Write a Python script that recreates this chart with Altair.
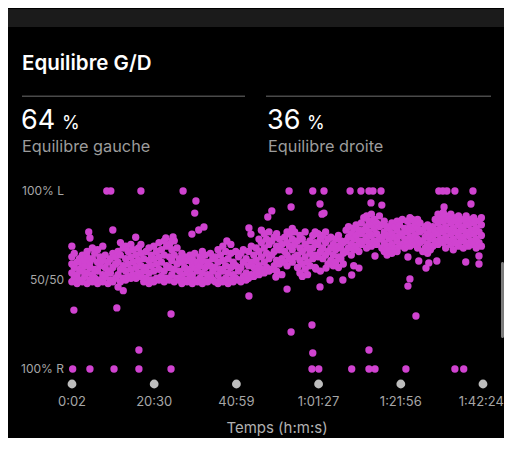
import altair as alt
import pandas as pd

# ---------------- data ----------------
title_text = "Equilibre G/D"
left_pct = 64
right_pct = 36
left_label = "Equilibre gauche"
right_label = "Equilibre droite"
x_title = "Temps (h:m:s)"

tick_minutes = [0.033, 20.5, 40.983, 61.45, 81.933, 102.4]
tick_labels = ["0:02", "20:30", "40:59", "1:01:27", "1:21:56", "1:42:24"]

y_ticks = [100, 50, 0]
y_labels = ["100% L", "50/50", "100% R"]

# dense cloud: (time in minutes, [balance % left, ...])
cloud_0_25 = [
    (0.0, [49, 54, 59, 63, 69]), (0.6, [51, 57, 65]), (1.3, [48, 53, 60]),
    (1.9, [50, 56, 62]), (2.6, [49, 55, 59, 64]), (3.2, [52, 58, 61]),
    (3.8, [48, 54, 63, 66]), (4.5, [50, 57, 60]), (5.1, [49, 53, 62, 68]),
    (5.7, [51, 56, 65]), (6.4, [48, 55, 60, 67]), (7.0, [50, 58, 63]),
    (7.7, [49, 53, 61, 69]), (8.3, [52, 57, 64]), (9.0, [48, 55, 60]),
    (9.6, [50, 54, 62]), (10.2, [49, 57, 65]), (10.9, [51, 59, 63]),
    (11.5, [46, 53, 60, 66]), (12.1, [49, 56, 64, 71]), (12.8, [44, 51, 58, 68]),
    (13.4, [50, 55, 62, 69]), (14.0, [52, 59, 66]), (14.7, [51, 56, 63, 70]),
    (15.3, [53, 60, 67]), (16.0, [51, 57, 64]), (16.6, [54, 61, 68]),
    (17.2, [52, 58, 65, 70]), (17.9, [49, 55, 62]), (18.5, [51, 57, 66]),
    (19.2, [48, 54, 61, 68]), (19.8, [50, 58, 64]), (20.4, [49, 55, 62, 69]),
    (21.1, [51, 59, 66]), (21.7, [50, 56, 63, 71]), (22.3, [52, 60, 67]),
    (23.0, [49, 55, 64, 72]), (23.6, [51, 58, 69]), (24.3, [50, 57, 63, 70]),
    (24.9, [53, 61, 67]), (25.5, [49, 56, 64, 72]),
]
cloud_26_50 = [
    (26.2, [51, 59, 68]), (26.8, [50, 55, 62]), (27.4, [48, 53, 60, 65]),
    (28.1, [50, 57, 63]), (28.7, [49, 54, 61]), (29.4, [51, 56, 64]),
    (30.0, [48, 53, 59, 62]), (30.6, [50, 57, 65]), (31.3, [49, 55, 60]),
    (31.9, [51, 58, 63]), (32.5, [48, 54, 61, 66]), (33.2, [50, 57, 64]),
    (33.8, [49, 53, 60]), (34.5, [52, 58, 65]), (35.1, [50, 55, 62]),
    (35.7, [49, 57, 63]), (36.4, [48, 53, 60, 67]), (37.0, [50, 56, 64]),
    (37.6, [49, 55, 61, 69]), (38.3, [51, 58, 66]), (38.9, [48, 54, 62]),
    (39.6, [50, 57, 65, 70]), (40.2, [49, 53, 60]), (40.8, [51, 58, 66]),
    (41.5, [50, 55, 63]), (42.1, [49, 57, 65]), (42.7, [52, 60, 67]),
    (43.4, [50, 54, 62]), (44.0, [51, 58, 66]), (44.7, [53, 60, 69]),
    (45.3, [52, 57, 64]), (45.9, [54, 61, 68]), (46.6, [53, 58, 66, 73]),
    (47.2, [56, 63, 71, 78]), (47.9, [54, 60, 68, 76]), (48.5, [57, 65, 73]),
    (49.1, [55, 62, 70, 77]), (49.8, [56, 64, 72]),
]
cloud_51_76 = [
    (50.4, [58, 66, 74]), (51.0, [55, 61, 69, 76]), (51.7, [59, 67, 73]),
    (52.3, [53, 62, 70]), (53.0, [60, 66, 74]), (53.6, [58, 64, 71, 77]),
    (54.2, [62, 69, 76]), (54.9, [60, 67, 73, 79]), (55.5, [63, 70, 77]),
    (56.2, [57, 64, 72]), (56.8, [54, 61, 68, 75]), (57.4, [52, 59, 66, 73]),
    (58.1, [56, 63, 70, 77]), (58.7, [53, 60, 68]), (59.3, [58, 65, 72]),
    (60.0, [62, 68, 75]), (60.6, [57, 64, 71, 77]), (61.3, [63, 70, 76]),
    (61.9, [55, 66, 73]), (62.5, [62, 68, 75]), (63.2, [64, 71, 77]),
    (63.8, [59, 66, 73]), (64.5, [61, 68, 74]), (65.1, [58, 64, 70]),
    (65.7, [60, 67, 73]), (66.4, [57, 63, 69, 75]), (67.0, [62, 68, 72]),
    (67.6, [59, 65, 71]), (68.3, [66, 72, 78]), (68.9, [68, 74, 80]),
    (69.6, [64, 70, 76]), (70.2, [58, 67, 73, 79]), (70.8, [69, 75, 81]),
    (71.5, [66, 72, 78]), (72.1, [70, 76, 82]), (72.7, [72, 78, 85]),
    (73.4, [68, 74, 80, 86]), (74.0, [71, 77, 83]), (74.6, [69, 75, 81, 87]),
    (75.3, [72, 79, 84]), (75.9, [70, 76, 82]),
]
cloud_77_102 = [
    (76.6, [73, 80, 86]), (77.2, [68, 74, 81]), (77.8, [66, 71, 77, 83]),
    (78.5, [64, 69, 75, 80]), (79.1, [67, 73, 79]), (79.7, [65, 70, 76, 82]),
    (80.4, [68, 74, 80]), (81.0, [66, 72, 78, 83]), (81.6, [69, 75, 81]),
    (82.3, [70, 76, 84]), (82.9, [68, 73, 79]), (83.6, [71, 77, 83]),
    (84.2, [69, 74, 80, 85]), (84.8, [72, 78, 84]), (85.5, [70, 75, 81]),
    (86.1, [68, 73, 79, 84]), (86.7, [71, 77, 82]), (87.4, [66, 72, 78]),
    (88.0, [68, 74, 80]), (88.6, [65, 70, 76, 81]), (89.3, [67, 73, 79]),
    (89.9, [69, 75, 80]), (90.5, [72, 78, 84]), (91.2, [70, 76, 82, 87]),
    (91.8, [73, 79, 85]), (92.5, [71, 77, 83, 88]), (93.1, [68, 74, 80, 86]),
    (93.7, [72, 78, 84]), (94.4, [70, 76, 82, 87]), (95.0, [67, 73, 79, 85]),
    (95.6, [71, 77, 83]), (96.3, [69, 75, 81, 86]), (96.9, [72, 78, 84]),
    (97.5, [68, 74, 80]), (98.2, [71, 77, 83, 86]), (98.8, [69, 75, 81]),
    (99.5, [72, 78, 84]), (100.1, [70, 76, 82, 85]), (100.7, [68, 73, 79]),
    (101.4, [71, 77, 83]), (102.0, [69, 75, 81, 85]),
]

# isolated readings
top_t = [8.7, 9.7, 17.2, 27.7, 54.1, 60.0, 62.8, 69.3, 72.0, 74.0, 75.0, 77.0,
         91.4, 92.4, 93.4, 95.4, 99.9]
bottom_t = [0.2, 4.5, 10.5, 16.7, 24.7, 59.8, 61.5, 69.7, 74.0, 75.5, 83.2,
            95.4, 97.6]
stray_t = [30.9, 30.6, 32.9, 31.6, 29.9, 4.2, 10.2, 44.1, 44.6, 44.1, 0.5, 11.2,
           24.7, 16.7, 54.6, 61.8, 62.8, 62.3, 74.5, 77.2, 99.4, 92.7, 49.8, 48.8,
           53.6, 61.8, 54.6, 59.8, 60.0, 74.0, 85.7, 84.2, 83.7, 75.5, 83.7, 88.2,
           86.4, 90.9, 88.9, 98.1, 101.4, 101.4, 71.5, 69.7, 67.5, 64.3, 60.8, 63.3,
           46.3, 50.8, 24.9, 38.6, 4.5, 15.9, 23.4, 25.2]
stray_p = [94.4, 87.6, 79.8, 78.1, 75.8, 77.0, 78.1, 79.2, 75.8, 41.0, 33.1, 34.3,
           30.9, 10.7, 91.0, 92.7, 87.6, 87.0, 93.3, 92.1, 92.7, 91.0, 88.8, 85.4,
           44.9, 46.1, 20.8, 24.7, 9.0, 10.7, 29.8, 50.6, 46.6, 63.5, 62.9, 56.7,
           60.7, 60.7, 59.6, 60.1, 59.0, 63.5, 56.7, 52.8, 50.0, 50.0, 56.2, 56.7,
           55.1, 51.7, 71.9, 71.9, 73.6, 74.0, 73.6, 74.2]

# ---------------- build table ----------------
rows = []
for seg in (cloud_0_25, cloud_26_50, cloud_51_76, cloud_77_102):
    for t, vals in seg:
        for v in vals:
            rows.append({"t": t, "p": v})
for t in top_t:
    rows.append({"t": t, "p": 100})
for t in bottom_t:
    rows.append({"t": t, "p": 0})
for t, v in zip(stray_t, stray_p):
    rows.append({"t": t, "p": v})
df = pd.DataFrame(rows)

ticks_df = pd.DataFrame({"t": tick_minutes[:-1], "label": tick_labels[:-1]})
last_df = pd.DataFrame({"t": tick_minutes[-1:], "label": tick_labels[-1:]})
ylab_df = pd.DataFrame({"p": y_ticks, "label": y_labels})
one = pd.DataFrame({"a": [0]})

MAG = "#d043d0"
GRAY = "#a6a6a6"
FONT = "Inter"

xs = alt.Scale(domain=[0.033, 102.4], range=[64, 475])
ys = alt.Scale(domain=[0, 100], range=[361, 183])


def txt(s, x, y, size, color, weight="normal", align="left", baseline="alphabetic"):
    return alt.Chart(one).mark_text(
        text=s, fontSize=size, color=color, fontWeight=weight, align=align,
        baseline=baseline, font=FONT
    ).encode(x=alt.value(x), y=alt.value(y))


def rect(x1, x2, y1, y2, color, radius=0):
    return alt.Chart(one).mark_rect(color=color, cornerRadius=radius).encode(
        x=alt.value(x1), x2=alt.value(x2), y=alt.value(y1), y2=alt.value(y2)
    )


top_strip = rect(0, 496, 1, 19, "#1b1b1b")
header = txt(title_text, 14, 62, 20.5, "#ffffff", weight=600)
line_l = rect(14, 237, 87.5, 89, "#4a4a4a")
line_r = rect(258, 483, 87.5, 89, "#4a4a4a")
lp = txt(str(left_pct), 13, 121, 27, "#ffffff")
lp_pc = txt("%", 54, 121, 18, "#ffffff")
rp = txt(str(right_pct), 259, 121, 27, "#ffffff")
rp_pc = txt("%", 299, 121, 18, "#ffffff")
ll = txt(left_label, 14, 144, 16.3, "#9c9c9c")
rl = txt(right_label, 260, 144, 16.3, "#9c9c9c")

ylabels = alt.Chart(ylab_df).mark_text(
    align="right", baseline="middle", fontSize=12, color=GRAY, font=FONT
).encode(x=alt.value(56), y=alt.Y("p:Q", scale=ys, axis=None), text="label:N")

points = alt.Chart(df).mark_circle(size=54, color=MAG, opacity=1).encode(
    x=alt.X("t:Q", scale=xs, axis=None),
    y=alt.Y("p:Q", scale=ys, axis=None),
)

tick_dots = alt.Chart(pd.DataFrame({"t": tick_minutes})).mark_circle(
    size=78, color="#bdbdbd", opacity=1
).encode(x=alt.X("t:Q", scale=xs, axis=None), y=alt.value(376))
tick_text = alt.Chart(ticks_df).mark_text(
    fontSize=13, color=GRAY, baseline="middle", align="center", font=FONT
).encode(x=alt.X("t:Q", scale=xs, axis=None), y=alt.value(394), text="label:N")
last_text = alt.Chart(last_df).mark_text(
    fontSize=13, color=GRAY, baseline="middle", align="right", font=FONT
).encode(x=alt.value(496), y=alt.value(394), text="label:N")

xtitle = txt(x_title, 269, 420, 15, "#b0b0b0", align="center", baseline="middle")
scroll = rect(493, 496, 254, 330, "#7c7c7c", radius=1.5)

chart = alt.layer(
    top_strip, header, line_l, line_r, lp, lp_pc, rp, rp_pc, ll, rl,
    ylabels, points, tick_dots, tick_text, last_text, xtitle, scroll
).properties(
    width=496, height=430, autosize=alt.AutoSizeParams(type="none"), padding=0,
    background="#000000"
).configure_view(stroke=None)

chart.save("out.html", embed_options={"renderer": "svg", "actions": False})
